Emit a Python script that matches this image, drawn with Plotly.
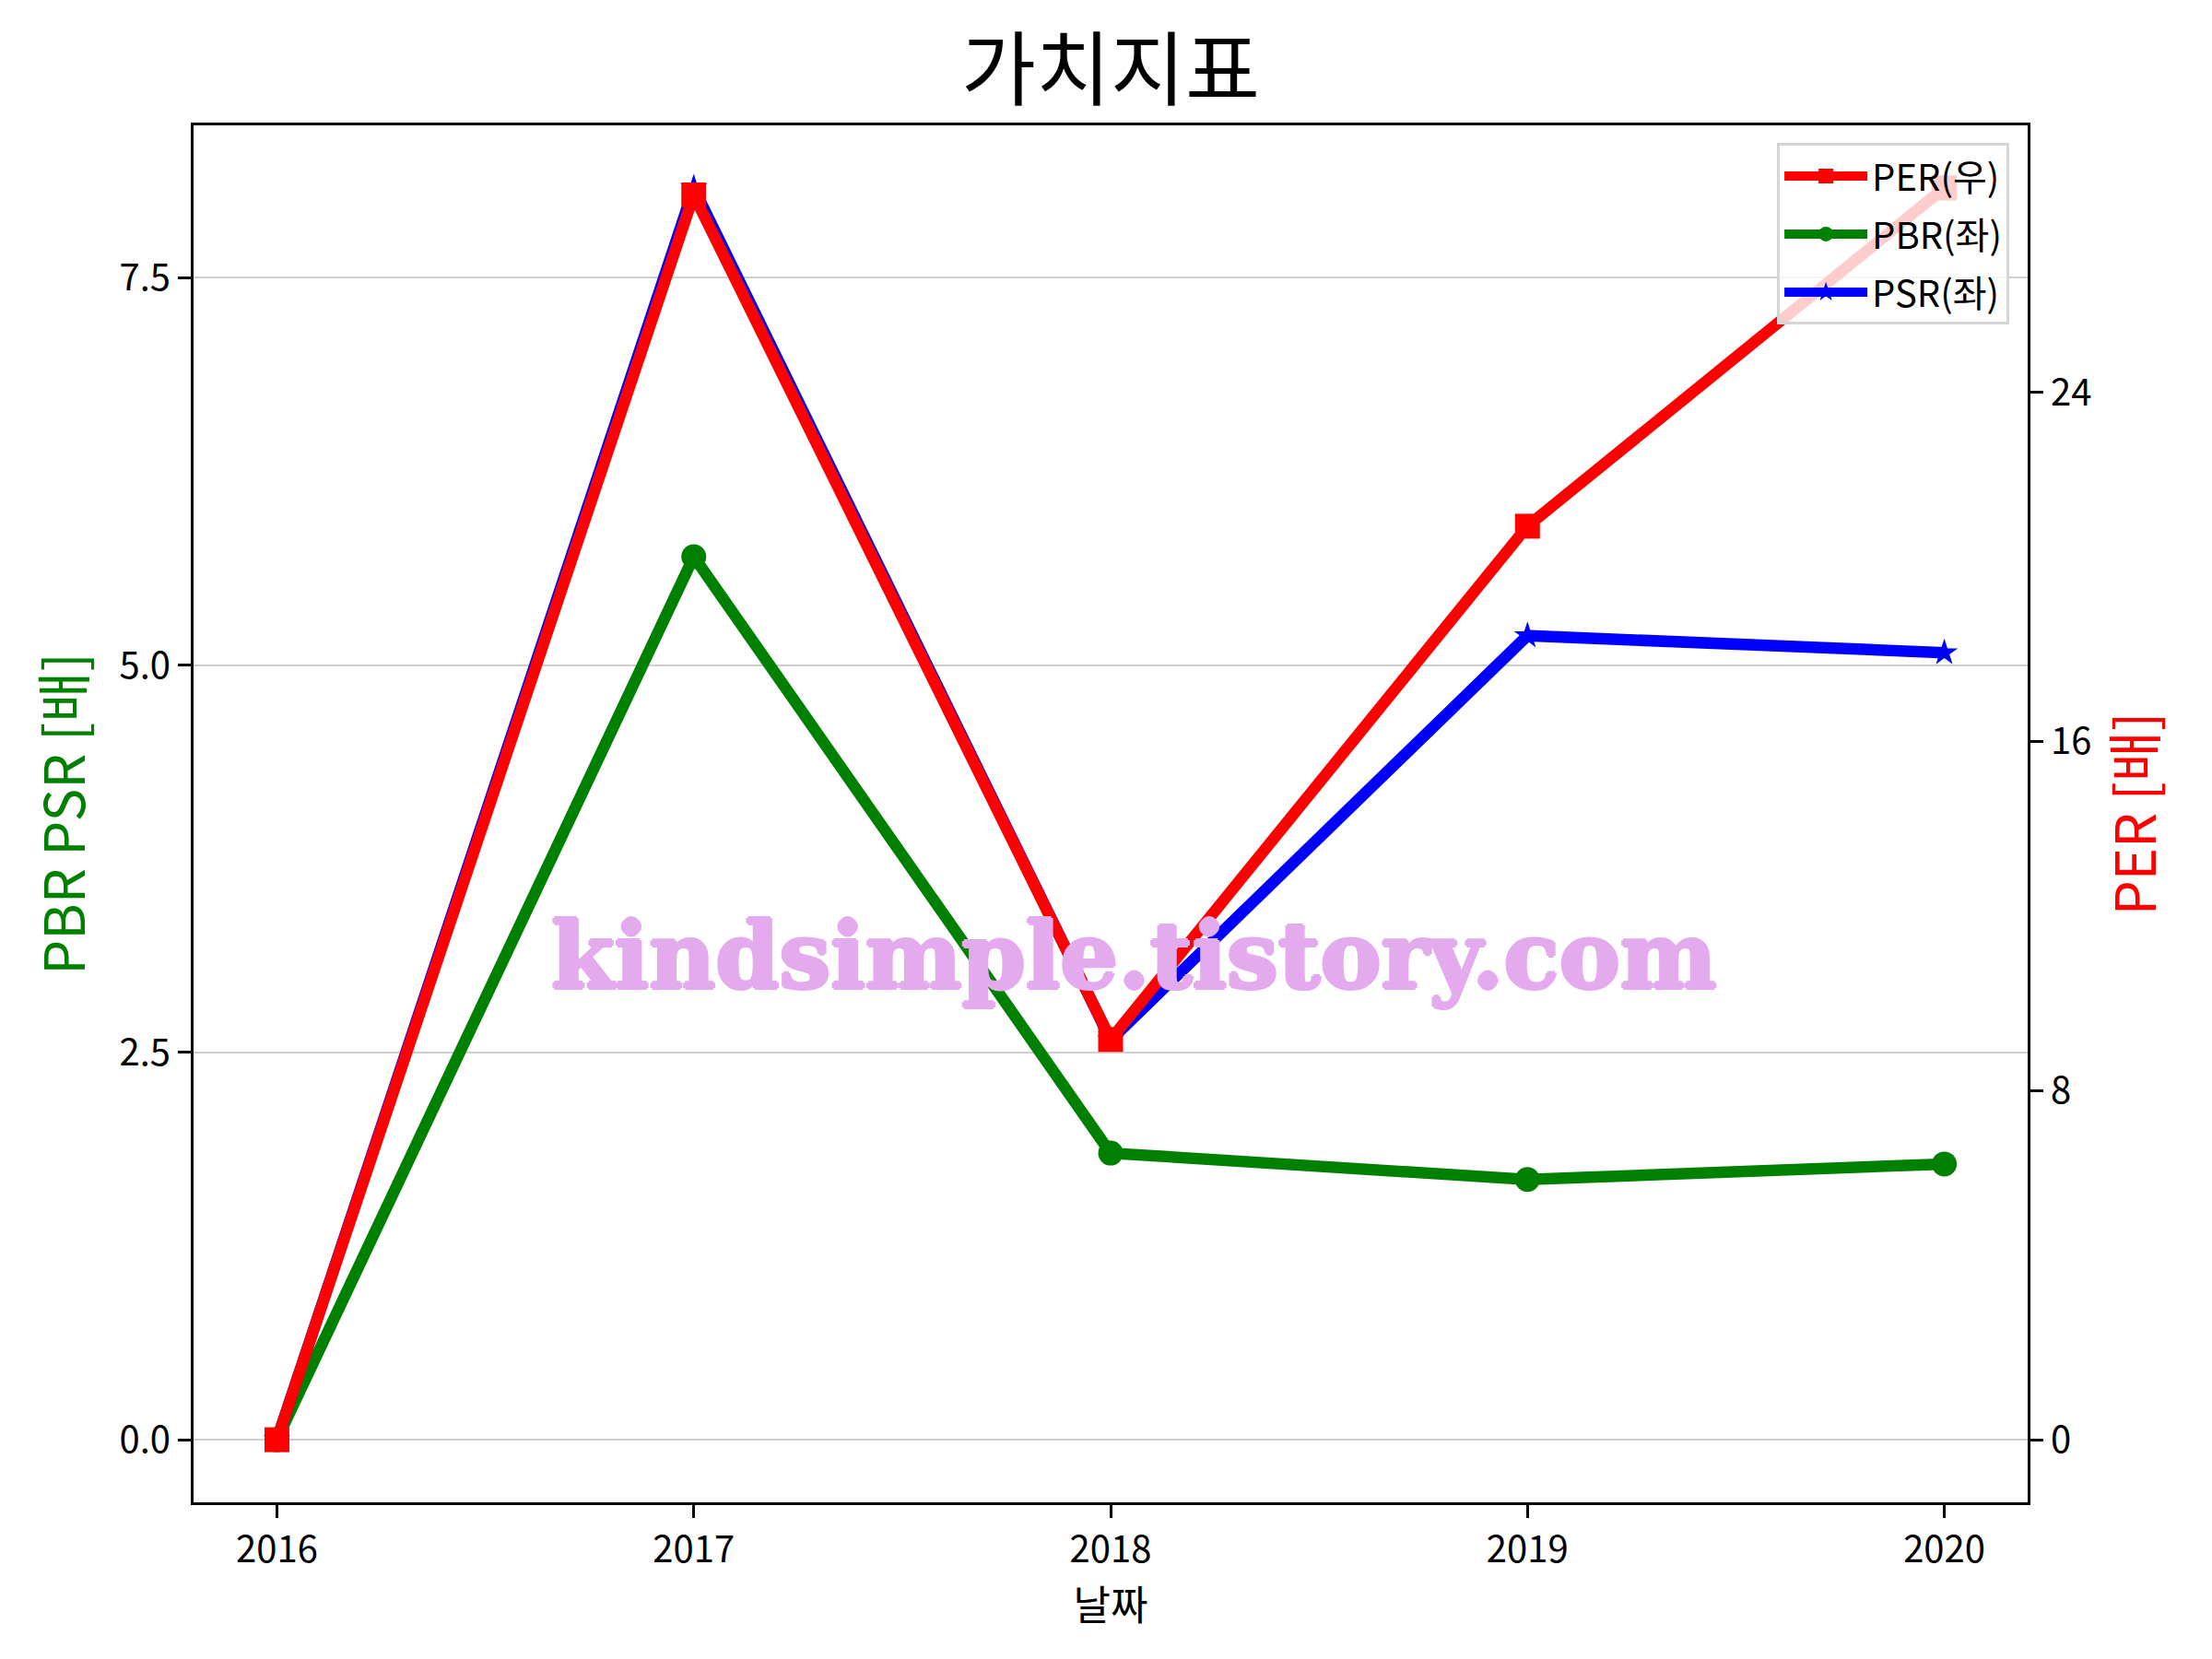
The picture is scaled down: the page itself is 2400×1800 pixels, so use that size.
import plotly.graph_objects as go

years = [2016, 2017, 2018, 2019, 2020]
per = [0.0, 28.52, 9.17, 20.93, 28.68]
pbr = [0.0, 5.70, 1.85, 1.68, 1.78]
psr = [0.0, 8.08, 2.58, 5.19, 5.08]

left_ticks = [0.0, 2.5, 5.0, 7.5]
left_ticklabels = ["0.0", "2.5", "5.0", "7.5"]
right_ticks = [0, 8, 16, 24]

title_text = "가치지표"
watermark = "kindsimple.tistory.com"

FONT = "Noto Sans CJK KR"
WM_COLOR = "#e4aaee"

def auto_range(values, margin=0.05):
    lo, hi = min(values), max(values)
    span = hi - lo
    return [lo - margin * span, hi + margin * span]

fig = go.Figure()

fig.add_trace(go.Scatter(
    x=years, y=per, name="PER(우)", yaxis="y2", mode="lines+markers",
    legendgroup="per",
    line=dict(color="#ff0000", width=12.5),
    marker=dict(symbol="square", size=27, color="#ff0000"),
))
fig.add_trace(go.Scatter(
    x=years, y=pbr, name="PBR(좌)", yaxis="y", mode="lines+markers",
    legendgroup="pbr",
    line=dict(color="#008000", width=12.5),
    marker=dict(symbol="circle", size=27, color="#008000"),
))
fig.add_trace(go.Scatter(
    x=years, y=psr, name="PSR(좌)", yaxis="y", mode="lines+markers",
    legendgroup="psr",
    line=dict(color="#0000ff", width=12.5),
    marker=dict(symbol="star", size=22, color="#0000ff"),
))

axis_common = dict(
    showline=True, linecolor="black", linewidth=3,
    ticks="outside", ticklen=14, tickwidth=3, tickcolor="black",
    tickfont=dict(family=FONT, size=40, color="black"),
    zeroline=False,
)

W, H = 2392, 1792
fig.update_layout(
    width=W, height=H,
    paper_bgcolor="white", plot_bgcolor="white",
    margin=dict(l=202, r=200, t=128, b=170),
    title=dict(text=title_text, x=0.5, xref="paper", xanchor="center",
               y=1 - 68 / H, yref="container", yanchor="middle",
               font=dict(family=FONT, size=88, color="black")),
    xaxis=dict(
        range=[2015.8, 2020.2], tickmode="array", tickvals=years,
        ticktext=[str(y) for y in years], showgrid=False, mirror=True,
        title=dict(text="날짜", font=dict(family=FONT, size=44, color="black"), standoff=0),
        **axis_common,
    ),
    yaxis=dict(
        range=auto_range(pbr + psr), tickmode="array", tickvals=left_ticks,
        ticktext=left_ticklabels, showgrid=True, gridcolor="#cfcfcf", gridwidth=1.8,
        mirror=False,
        title=dict(text="PBR PSR [배]", font=dict(family=FONT, size=60, color="#008000"), standoff=18),
        **axis_common,
    ),
    yaxis2=dict(
        range=auto_range(per), tickmode="array", tickvals=right_ticks,
        ticktext=[str(t) for t in right_ticks], showgrid=False,
        overlaying="y", side="right",
        title=dict(text="PER [배]", font=dict(family=FONT, size=60, color="#ff0000"), standoff=18),
        **axis_common,
    ),
    legend=dict(
        x=0.99, y=0.987, xanchor="right", yanchor="top",
        bgcolor="rgba(255,255,255,0.8)", bordercolor="#d5d5d5", borderwidth=3,
        font=dict(family=FONT, size=40, color="black"),
        itemwidth=90, tracegroupgap=8, traceorder="grouped",
    ),
    showlegend=True,
)

fig.add_annotation(
    text=watermark, xref="paper", yref="paper", x=0.5126, y=0.397,
    xanchor="center", yanchor="middle", showarrow=False,
    font=dict(family="DejaVu Serif", size=99, color=WM_COLOR, weight="bold",
              shadow=f"2px 0 0 {WM_COLOR}, -2px 0 0 {WM_COLOR}, 0 2px 0 {WM_COLOR}, 0 -2px 0 {WM_COLOR}"),
)

fig.write_html("out.html")
